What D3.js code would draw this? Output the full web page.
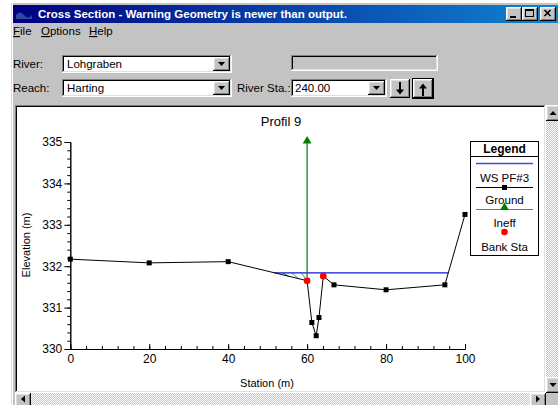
<!DOCTYPE html>
<html>
<head>
<meta charset="utf-8">
<script src="https://cdn.jsdelivr.net/npm/d3@7"></script>
<style>
body{margin:0;background:#fff;}
text{font-family:"Liberation Sans",Arial,sans-serif;}
</style>
</head>
<body>
<script>
// ground points of the cross section (station m, elevation m)
var stations   = [0, 20, 40, 60, 61.2, 62.3, 63.0, 64.1, 66.8, 80, 94.9, 100];
var elevations = [332.17, 332.08, 332.11, 331.65, 330.64, 330.32, 330.76, 331.76, 331.55, 331.43, 331.55, 333.25];
var bankStations = [60, 64.1];
var wsElevation = 331.84;
var ineffStation = 60;
var ineffElevation = 335.0;

var xTicks = [0, 20, 40, 60, 80, 100];
var yTicks = [330, 331, 332, 333, 334, 335];
var legendLabels = ["WS PF#3", "Ground", "Ineff", "Bank Sta"];

var chartTitle = "Profil 9";
var windowTitle = "Cross Section - Warning Geometry is newer than output.";
var menuItems = ["File", "Options", "Help"];

var W = 558, H = 405;
var svg = d3.select("body").append("svg").attr("width", W).attr("height", H);
var defs = svg.append("defs");

var grad = defs.append("linearGradient").attr("id", "titleGrad");
grad.append("stop").attr("offset", "0%").attr("stop-color", "#000080");
grad.append("stop").attr("offset", "100%").attr("stop-color", "#1084d0");

var dither = defs.append("pattern").attr("id", "dither")
    .attr("width", 2).attr("height", 2).attr("patternUnits", "userSpaceOnUse");
dither.append("rect").attr("width", 2).attr("height", 2).attr("fill", "#c6c6c6");
dither.append("rect").attr("width", 1).attr("height", 1).attr("fill", "#fff");
dither.append("rect").attr("x", 1).attr("y", 1).attr("width", 1).attr("height", 1).attr("fill", "#fff");

function px(g, x, y, w, h, c){
    g.append("rect").attr("x", x).attr("y", y).attr("width", w).attr("height", h).attr("fill", c);
}

// windows 98 style 3d box
function box(g, x, y, w, h, fill, sunken){
    var tl1 = sunken ? "#808080" : "#ffffff",
        br1 = sunken ? "#ffffff" : "#000000",
        tl2 = sunken ? "#000000" : "#dfdfdf",
        br2 = sunken ? "#dfdfdf" : "#808080";
    px(g, x, y, w, h, fill);
    px(g, x, y, w, 1, tl1); px(g, x, y, 1, h, tl1);
    px(g, x, y + h - 1, w, 1, br1); px(g, x + w - 1, y, 1, h, br1);
    px(g, x + 1, y + 1, w - 2, 1, tl2); px(g, x + 1, y + 1, 1, h - 2, tl2);
    px(g, x + 1, y + h - 2, w - 2, 1, br2); px(g, x + w - 2, y + 1, 1, h - 2, br2);
}

function label(g, x, y, txt, size, weight, color){
    return g.append("text").attr("x", x).attr("y", y)
        .attr("font-size", size).attr("font-weight", weight || "normal")
        .attr("fill", color || "#000").text(txt);
}

function tri(g, cx, cy, w, h, dir){
    var p = dir == "down"
        ? [[cx - w / 2, cy - h / 2], [cx + w / 2, cy - h / 2], [cx, cy + h / 2]]
        : dir == "up"
        ? [[cx - w / 2, cy + h / 2], [cx + w / 2, cy + h / 2], [cx, cy - h / 2]]
        : dir == "left"
        ? [[cx + h / 2, cy - w / 2], [cx + h / 2, cy + w / 2], [cx - h / 2, cy]]
        : [[cx - h / 2, cy - w / 2], [cx - h / 2, cy + w / 2], [cx + h / 2, cy]];
    g.append("path").attr("d", "M" + p.join("L") + "Z").attr("fill", "#000");
}

var ui = svg.append("g");

// window body
px(ui, 11, 3, W - 11, H - 3, "#c3c3c3");
px(ui, 11, 3, 1, H, "#dfdfdf");
px(ui, 12, 3, 1, H, "#ffffff");

// title bar
px(ui, 13, 5, W - 13, 18, "url(#titleGrad)");
ui.append("path").attr("d", "M16,15 q4,-5 8,0 t8,0 v4 h-16z").attr("fill", "#3a5aa8").attr("opacity", 0.8);
label(ui, 38, 18, windowTitle, 11.5, "bold", "#fff");
[[506, "min"], [522, "max"], [540, "close"]].forEach(function(b){
    box(ui, b[0], 7, 16, 14, "#c3c3c3", false);
    if(b[1] == "min") px(ui, b[0] + 4, 16, 6, 2, "#000");
    if(b[1] == "max"){
        ui.append("rect").attr("x", b[0] + 3.5).attr("y", 9.5).attr("width", 8).attr("height", 7)
            .attr("fill", "none").attr("stroke", "#000");
        px(ui, b[0] + 3, 10, 9, 1, "#000");
    }
    if(b[1] == "close"){
        ui.append("path").attr("d", "M" + (b[0] + 4.5) + ",10 l6,6 M" + (b[0] + 10.5) + ",10 l-6,6")
            .attr("stroke", "#000").attr("stroke-width", 1.6);
    }
});

// menu
var menuX = [13, 41, 89];
menuItems.forEach(function(m, i){
    var t = label(ui, menuX[i], 35, "", 11.5);
    t.append("tspan").style("text-decoration", "underline").text(m[0]);
    t.append("tspan").text(m.slice(1));
});

// river / reach rows
label(ui, 13, 68, "River:", 11.5);
box(ui, 62, 55, 170, 18, "#fff", true);
label(ui, 67, 68, "Lohgraben", 11.5);
box(ui, 213, 57, 17, 14, "#c3c3c3", false);
tri(ui, 221.5, 64, 7, 4, "down");
box(ui, 291, 55, 147, 16, "#c3c3c3", true);

label(ui, 13, 92, "Reach:", 11.5);
box(ui, 62, 79, 170, 18, "#fff", true);
label(ui, 67, 92, "Harting", 11.5);
box(ui, 213, 81, 17, 14, "#c3c3c3", false);
tri(ui, 221.5, 88, 7, 4, "down");

label(ui, 237, 92, "River Sta.:", 11.5);
box(ui, 291, 79, 96, 18, "#fff", true);
label(ui, 295, 92, "240.00", 11.5);
box(ui, 368, 81, 17, 14, "#c3c3c3", false);
tri(ui, 376.5, 88, 7, 4, "down");

box(ui, 390, 79, 20, 19, "#c3c3c3", false);
px(ui, 399, 82, 2, 8, "#000");
tri(ui, 400, 92, 8, 5, "down");
ui.append("rect").attr("x", 412.5).attr("y", 78.5).attr("width", 21).attr("height", 20)
    .attr("fill", "none").attr("stroke", "#000");
box(ui, 413, 79, 20, 19, "#c3c3c3", false);
px(ui, 422, 88, 2, 8, "#000");
tri(ui, 423, 86, 8, 5, "up");

// plot panel with scroll bars
box(ui, 15, 105, 531, 288, "#fff", true);
px(ui, 546, 105, 12, 288, "url(#dither)");
box(ui, 546, 105, 14, 16, "#c3c3c3", false);
tri(ui, 553, 113, 7, 4, "up");
box(ui, 546, 377, 14, 16, "#c3c3c3", false);
tri(ui, 553, 385, 7, 4, "down");
px(ui, 15, 393, 531, 12, "url(#dither)");
box(ui, 15, 393, 16, 14, "#c3c3c3", false);
tri(ui, 23, 399, 7, 4, "left");
box(ui, 530, 393, 16, 14, "#c3c3c3", false);
tri(ui, 538, 399, 7, 4, "right");
px(ui, 546, 393, 12, 12, "#c3c3c3");

// chart
var x = d3.scaleLinear().domain([0, 100]).range([70.3, 465]);
var y = d3.scaleLinear().domain([330, 335]).range([349, 142]);
var chart = svg.append("g");

chart.append("text").attr("x", 281).attr("y", 126).attr("text-anchor", "middle")
    .attr("font-size", 13).text(chartTitle);

var axisY = chart.append("g").attr("transform", "translate(" + x(0) + ",0)")
    .call(d3.axisLeft(y).tickValues(d3.range(330, 335.01, 0.2)).tickSize(3).tickFormat(""));
axisY.append("g")
    .call(d3.axisLeft(y).tickValues(yTicks).tickSize(6).tickSizeOuter(0).tickPadding(2).tickFormat(d3.format("d")));

var axisX = chart.append("g").attr("transform", "translate(0," + y(330) + ")")
    .call(d3.axisBottom(x).tickValues(d3.range(0, 100.01, 4)).tickSizeInner(-3).tickSizeOuter(0).tickFormat(""));
axisX.append("g")
    .call(d3.axisBottom(x).tickValues(xTicks).tickSizeInner(-5).tickSizeOuter(0).tickPadding(5));

chart.selectAll(".tick text").attr("font-size", 12).attr("fill", "#000")
    .attr("font-family", "Liberation Sans, Arial, sans-serif");
chart.selectAll(".domain, .tick line").attr("stroke", "#000");

chart.append("text").attr("x", 267).attr("y", 387).attr("text-anchor", "middle")
    .attr("font-size", 11).text("Station (m)");
chart.append("text").attr("transform", "translate(30,245) rotate(-90)").attr("text-anchor", "middle")
    .attr("font-size", 11).text("Elevation (m)");

// water surface limits from ground crossings
var pts = stations.map(function(s, i){ return [s, elevations[i]]; });
function crossing(a, b){
    return a[0] + (wsElevation - a[1]) / (b[1] - a[1]) * (b[0] - a[0]);
}
var wsLeft, wsRight;
for(var i = 0; i < pts.length - 1; i++){
    if(wsLeft === undefined && pts[i][1] > wsElevation && pts[i + 1][1] <= wsElevation) wsLeft = crossing(pts[i], pts[i + 1]);
    if(pts[i][1] <= wsElevation && pts[i + 1][1] > wsElevation) wsRight = crossing(pts[i], pts[i + 1]);
}
function groundAt(s){
    for(var i = 0; i < pts.length - 1; i++){
        if(s >= pts[i][0] && s <= pts[i + 1][0])
            return pts[i][1] + (s - pts[i][0]) / (pts[i + 1][0] - pts[i][0]) * (pts[i + 1][1] - pts[i][1]);
    }
}

// ineffective area hatching
d3.range(wsLeft + 2, ineffStation, 2.4).forEach(function(s){
    var s2 = Math.min(s + 1.6, ineffStation);
    chart.append("line")
        .attr("x1", x(s)).attr("y1", y(wsElevation))
        .attr("x2", x(s2)).attr("y2", y(Math.max(groundAt(s2), wsElevation - 0.2)))
        .attr("stroke", "#2e9a6e").attr("stroke-width", 1);
});

chart.append("line")
    .attr("x1", x(wsLeft)).attr("x2", x(wsRight))
    .attr("y1", y(wsElevation)).attr("y2", y(wsElevation))
    .attr("stroke", "#1414d8").attr("stroke-width", 1.2);

// ineffective flow marker
chart.append("line")
    .attr("x1", x(ineffStation)).attr("x2", x(ineffStation))
    .attr("y1", y(ineffElevation)).attr("y2", y(groundAt(ineffStation)))
    .attr("stroke", "#008000").attr("stroke-width", 1.2);
chart.append("path").attr("d", d3.symbol().type(d3.symbolTriangle).size(34))
    .attr("transform", "translate(" + x(ineffStation) + "," + (y(ineffElevation) - 1) + ")")
    .attr("fill", "#008000");

var groundLine = d3.line()
    .x(function(d){ return x(d[0]); })
    .y(function(d){ return y(d[1]); });

chart.append("path").attr("d", groundLine(pts))
    .attr("fill", "none").attr("stroke", "#000").attr("stroke-width", 1);

chart.selectAll(".pt").data(pts).enter().append("rect")
    .attr("x", function(d){ return x(d[0]) - 2.5; })
    .attr("y", function(d){ return y(d[1]) - 2.5; })
    .attr("width", 5).attr("height", 5).attr("fill", "#000");

chart.selectAll(".bank").data(bankStations).enter().append("circle")
    .attr("cx", function(d){ return x(d); })
    .attr("cy", function(d){ return y(groundAt(d)); })
    .attr("r", 3.3).attr("fill", "#ff0000");

// legend
var lg = svg.append("g");
lg.append("rect").attr("x", 470.5).attr("y", 141.5).attr("width", 68).attr("height", 114)
    .attr("fill", "#fff").attr("stroke", "#000");
lg.append("text").attr("x", 504.5).attr("y", 153).attr("text-anchor", "middle")
    .attr("font-size", 12).attr("font-weight", "bold").text("Legend");
lg.append("line").attr("x1", 470).attr("x2", 539).attr("y1", 156.5).attr("y2", 156.5).attr("stroke", "#000");

var symY = [163.5, 187.5, 209.5, 232];
var labY = [182, 204, 227, 251];
lg.append("line").attr("x1", 476).attr("x2", 533).attr("y1", symY[0]).attr("y2", symY[0])
    .attr("stroke", "#4a4ad0").attr("stroke-width", 1.3);
lg.append("line").attr("x1", 476).attr("x2", 533).attr("y1", symY[1]).attr("y2", symY[1])
    .attr("stroke", "#000");
lg.append("rect").attr("x", 502).attr("y", symY[1] - 2.5).attr("width", 5).attr("height", 5).attr("fill", "#000");
lg.append("line").attr("x1", 476).attr("x2", 533).attr("y1", symY[2]).attr("y2", symY[2])
    .attr("stroke", "#3c9a3c");
lg.append("path").attr("d", d3.symbol().type(d3.symbolTriangle).size(34))
    .attr("transform", "translate(504.5," + (symY[2] - 2) + ")").attr("fill", "#008000");
lg.append("circle").attr("cx", 504.5).attr("cy", symY[3]).attr("r", 3.3).attr("fill", "#ff0000");

legendLabels.forEach(function(t, i){
    lg.append("text").attr("x", 504.5).attr("y", labY[i]).attr("text-anchor", "middle")
        .attr("font-size", 11.5).text(t);
});
</script>
</body>
</html>
